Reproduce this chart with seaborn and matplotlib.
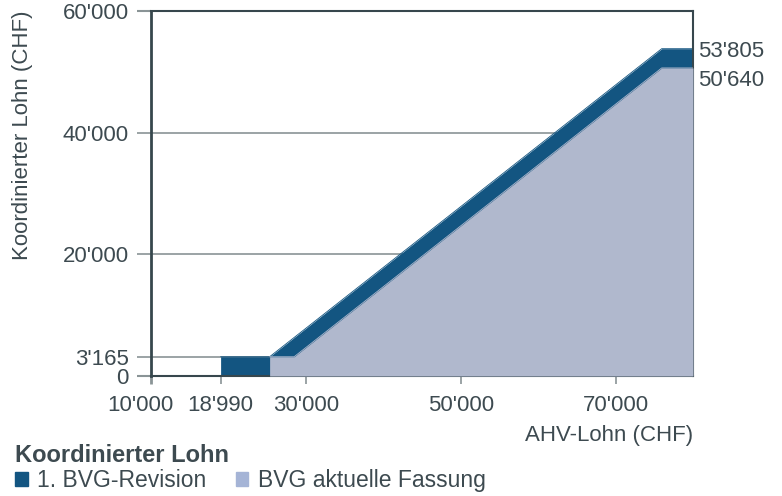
import matplotlib
matplotlib.use("Agg")
import matplotlib.pyplot as plt
import matplotlib.ticker as mticker
import matplotlib.transforms as mtransforms
from matplotlib.patches import Patch
import seaborn as sns

# Knickpunkte koordinierter Lohn (CHF)
rev1_x = [18990, 25320, 75960, 80000]
rev1_y = [3165, 3165, 53805, 53805]
akt_x = [25320, 28485, 75960, 80000]
akt_y = [3165, 3165, 50640, 50640]

x_ticks = [10000, 18990, 30000, 50000, 70000]
y_ticks = [0, 3165, 20000, 40000, 60000]
end_values = [53805, 50640]
labels = ["1. BVG-Revision", "BVG aktuelle Fassung"]

dark = "#135581"
light = "#b0b8cd"
light_legend = "#a5b4d6"
axis_c = "#37474d"
grid_c = "#8a9496"
txt = "#3d4a50"

sns.set_theme(style="white")
plt.rcParams['font.family'] = ['Liberation Sans', 'DejaVu Sans']

fig = plt.figure(figsize=(7.82, 4.96), dpi=100)
ax = fig.add_axes([151 / 782, 1 - 376 / 496, 542 / 782, 365 / 496])

ax.fill_between(rev1_x, 0, rev1_y, color=dark, lw=0, zorder=2)
ax.fill_between(akt_x, 0, akt_y, color=light, lw=0, zorder=3)
sns.lineplot(x=rev1_x, y=rev1_y, color=dark, lw=0.6, ax=ax, zorder=2)
sns.lineplot(x=akt_x, y=akt_y, color=light, lw=0.6, ax=ax, zorder=3)

ax.set_xlim(10000, 80000)
ax.set_ylim(0, 60000)
ax.set_xticks(x_ticks)
ax.set_yticks(y_ticks)
fmt = mticker.FuncFormatter(lambda v, p: f"{v:,.0f}".replace(",", "'"))
ax.xaxis.set_major_formatter(fmt)
ax.yaxis.set_major_formatter(fmt)

ax.set_axisbelow(True)
ax.grid(axis='y', color=grid_c, lw=1.2)
ax.grid(axis='x', visible=False)

for side in ['top', 'right', 'bottom']:
    ax.spines[side].set_color(axis_c)
    ax.spines[side].set_linewidth(1.5)
ax.spines['left'].set_color(axis_c)
ax.spines['left'].set_linewidth(2)

ax.tick_params(axis='y', direction='out', length=10, width=1.2, color=grid_c,
               pad=6, labelsize=16, labelcolor=txt, left=True)
ax.tick_params(axis='x', direction='out', length=6, width=1.2, color=grid_c,
               pad=7.5, labelsize=16, labelcolor=txt, bottom=True)
yt = ax.yaxis.get_major_ticks()
for t in (yt[0], yt[-1]):
    t.tick1line.set_color(axis_c)
    t.tick1line.set_markeredgewidth(1.5)
xt = ax.xaxis.get_major_ticks()
xt[0].tick1line.set_color(axis_c)
xt[0].tick1line.set_markeredgewidth(2)

# erstes x-Label etwas nach links, damit es nicht mit 18'990 kollidiert
fig.canvas.draw()
shift = mtransforms.ScaledTranslation(-8 / 72, 0, fig.dpi_scale_trans)
first_lbl = ax.get_xticklabels()[0]
first_lbl.set_transform(first_lbl.get_transform() + shift)

ax.annotate(f"{end_values[0]:,.0f}".replace(",", "'"), xy=(1, end_values[0]),
            xycoords=('axes fraction', 'data'), xytext=(4, -2),
            textcoords='offset points', va='center', ha='left', fontsize=16, color=txt)
ax.annotate(f"{end_values[1]:,.0f}".replace(",", "'"), xy=(1, end_values[1]),
            xycoords=('axes fraction', 'data'), xytext=(4, -9),
            textcoords='offset points', va='center', ha='left', fontsize=16, color=txt)

fig.text(693 / 782, 1 - 436 / 496, "AHV-Lohn (CHF)", ha='right', va='center',
         fontsize=16, color=txt)
fig.text(23 / 782, 1 - 11 / 496, "Koordinierter Lohn (CHF)", rotation=90,
         ha='center', va='top', fontsize=16, color=txt)

handles = [Patch(color=dark), Patch(color=light_legend)]
leg = fig.legend(handles, labels, title="Koordinierter Lohn",
                 title_fontproperties={'weight': 'bold', 'size': 17},
                 loc='upper left', bbox_to_anchor=(15 / 782, 1 - 444 / 496),
                 ncol=2, frameon=False, fontsize=16.5, handlelength=0.55,
                 handleheight=0.55, handletextpad=0.4, columnspacing=1.3,
                 borderpad=0, borderaxespad=0, labelspacing=0.1,
                 alignment='left', labelcolor=txt)
leg.get_title().set_color(txt)

fig.savefig("out.png", dpi=100)
